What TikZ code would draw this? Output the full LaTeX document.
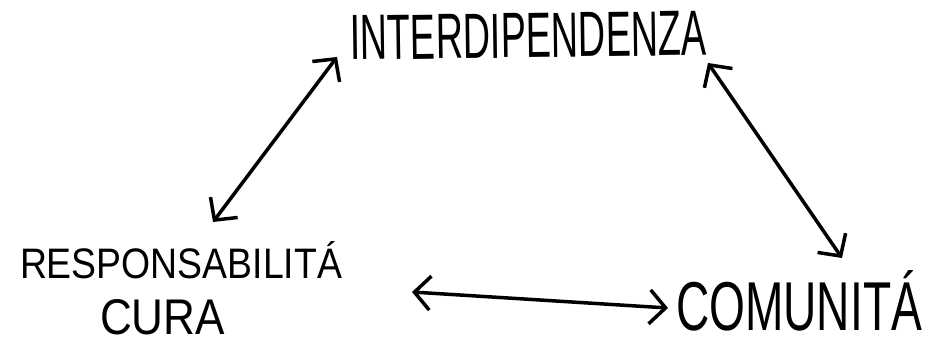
\documentclass[tikz,border=0pt]{standalone}
\usepackage{fontspec}
\setmainfont{Liberation Sans}
\usetikzlibrary{arrows.meta}
\tikzset{
  word/.style={inner sep=0pt, outer sep=0pt, anchor=base west},
  link/.style={line width=3.5pt, line cap=round, line join=round,
    {Straight Barb[length=16pt,width=34pt,line width=3.5pt]}-{Straight Barb[length=16pt,width=34pt,line width=3.5pt]}}
}
\begin{document}
\begin{tikzpicture}[x=1pt,y=1pt]
\useasboundingbox (0,0) rectangle (942,345);
% texts
\node[word, rotate=0.8] (inter) at (350,285) {\resizebox{357pt}{44pt}{INTERDIPENDENZA}};
\node[word] (resp) at (20,66) {\resizebox{322pt}{37pt}{RESPONSABILITÁ}};
\node[word] (cura) at (100,10) {\resizebox{125pt}{35pt}{CURA}};
\node[word] (comu) at (676,14) {\resizebox{246pt}{60pt}{COMUNITÁ}};
% arrow ends
\coordinate (a1) at (213,123);
\coordinate (a2) at (337,288);
\coordinate (b1) at (708,282);
\coordinate (b2) at (842,87);
\coordinate (c1) at (412,53);
\coordinate (c2) at (668,37);
% connectors
\draw[link] (a1) -- (a2);
\draw[link] (b1) -- (b2);
\draw[link] (c1) -- (c2);
\end{tikzpicture}
\end{document}
